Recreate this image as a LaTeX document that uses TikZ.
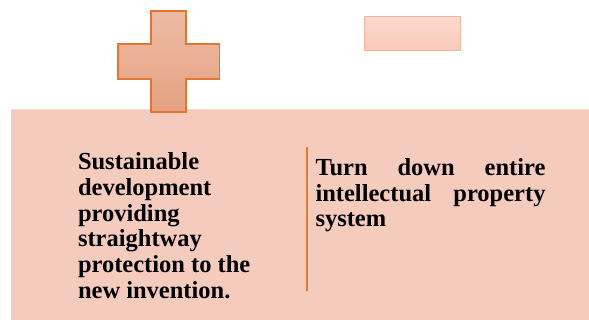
\documentclass[tikz,border=0pt]{standalone}
\usepackage{fontspec}
\setmainfont{Liberation Serif}
\definecolor{boxfill}{HTML}{F5CBBE}
\definecolor{boxedge}{HTML}{F8D9CE}
\definecolor{crosstop}{HTML}{EBBBA3}
\definecolor{crossbot}{HTML}{E7A182}
\definecolor{crossedge}{HTML}{E2752F}
\definecolor{minustop}{HTML}{FBDBCF}
\definecolor{minusbot}{HTML}{F8CAB9}
\definecolor{minusedge}{HTML}{F4B39C}
\definecolor{divline}{HTML}{E07A3A}
\newcommand{\justline}[1]{\hbox to 230pt{#1}}
\tikzset{
  panel/.style={fill=boxfill, draw=none, inner sep=0, outer sep=0, anchor=north west},
  minusbox/.style={top color=minustop, bottom color=minusbot, draw=minusedge, line width=1.2pt, inner sep=0, anchor=north west},
  crossshape/.style={top color=crosstop, bottom color=crossbot, draw=crossedge, line width=1.4pt, line join=miter},
  bodytext/.style={font=\bfseries\fontsize{24.5}{25.7}\selectfont, inner sep=0, outer sep=0, anchor=north west},
  divider/.style={draw=divline, line width=2pt}
}
\begin{document}
\begin{tikzpicture}[x=1pt,y=-1pt]
\useasboundingbox (0,0) rectangle (589,320);
% main panel
\node[panel, minimum width=578.5pt, minimum height=210pt] (panel) at (10.5,110) {};
\draw[boxedge, line width=1pt] (panel.north west) -- (panel.north east);
% plus sign
\path[crossshape] (151,11) -- (186,11) -- (186,44) -- (219.5,44) -- (219.5,79) -- (186,79) -- (186,112) -- (151,112) -- (151,79) -- (118,79) -- (118,44) -- (151,44) -- cycle;
% minus sign
\node[minusbox, minimum width=96pt, minimum height=34pt] (minus) at (364,16) {};
% texts
\node[bodytext, align=left] (left) at (78,152.8) {Sustainable\\development\\providing\\straightway\\protection to the\\new invention.};
\node[bodytext, align=left] (right) at (315.5,158.4) {\justline{Turn\hfil down\hfil entire}\\\justline{intellectual\hfil property}\\system};
% divider
\coordinate (dtop) at (307.3,147.3);
\coordinate (dbot) at (307.3,291.3);
\draw[divider] (dtop) -- (dbot);
\end{tikzpicture}
\end{document}
